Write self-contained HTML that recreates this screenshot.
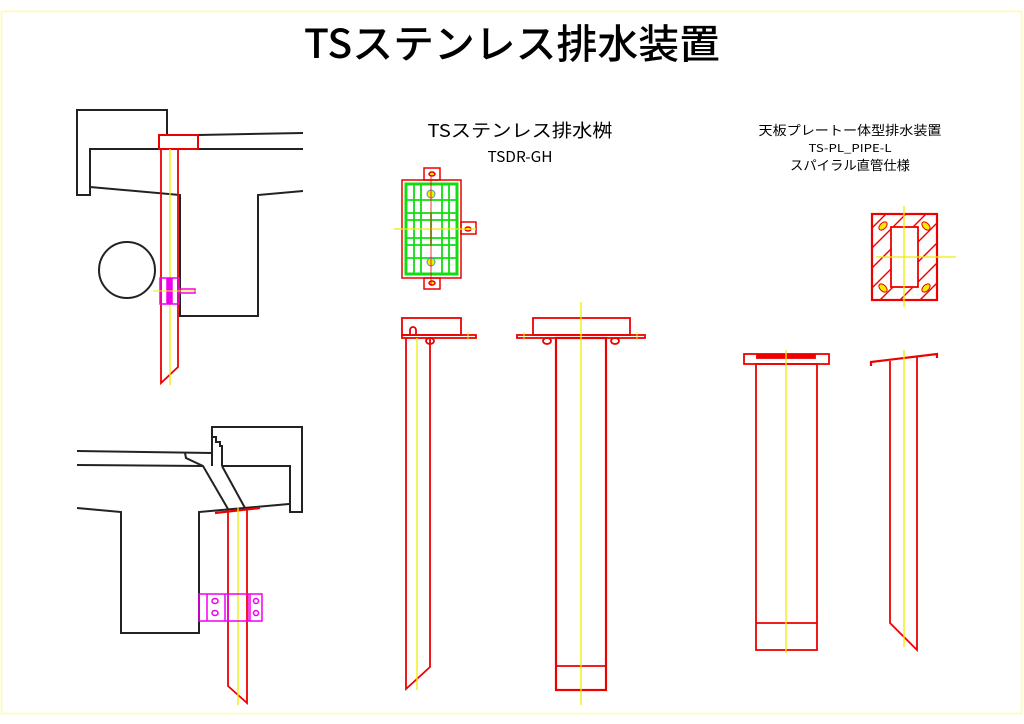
<!DOCTYPE html>
<html><head><meta charset="utf-8"><style>
html,body{margin:0;padding:0;background:#fff;}
svg{display:block;}
text{font-family:"Liberation Sans","Noto Sans CJK JP",sans-serif;fill:#000;}
.t{font-family:"Noto Sans CJK JP","Liberation Sans",sans-serif;}
</style></head><body>
<svg width="1024" height="724" viewBox="0 0 1024 724" xmlns="http://www.w3.org/2000/svg">
<rect x="1.5" y="11.5" width="1020" height="702" fill="none" stroke="#ffff99" stroke-width="1.5"/>
<text class="t" x="512" y="58" font-size="40" font-weight="500" text-anchor="middle" textLength="416" lengthAdjust="spacingAndGlyphs">TSステンレス排水装置</text>
<text class="t" x="520" y="137" font-size="18" text-anchor="middle" textLength="185" lengthAdjust="spacingAndGlyphs">TSステンレス排水桝</text>
<text class="t" x="520" y="162" font-size="15" text-anchor="middle" textLength="65" lengthAdjust="spacingAndGlyphs">TSDR-GH</text>
<text class="t" x="850" y="135" font-size="13" text-anchor="middle" textLength="183" lengthAdjust="spacingAndGlyphs">天板プレートー体型排水装置</text>
<text class="t" x="850" y="152" font-size="11" text-anchor="middle" textLength="83" lengthAdjust="spacingAndGlyphs">TS-PL_PIPE-L</text>
<text class="t" x="850" y="170" font-size="13" text-anchor="middle" textLength="120" lengthAdjust="spacingAndGlyphs">スパイラル直管仕様</text>

<g fill="none" stroke="#222" stroke-width="2">
<polyline points="167,135 167,110 77,110 77,195 90,195 90,149 159,149"/>
<line x1="198" y1="149" x2="303" y2="149"/>
<line x1="198" y1="135" x2="303" y2="133"/>
<polyline points="90,187 180,195 180,316 258,316 258,195 303,191"/>
<circle cx="127" cy="270" r="28"/>
</g>
<g fill="none" stroke="#e00" stroke-width="1.8">
<rect x="159" y="135" width="39" height="14" stroke-width="2"/>
<polyline points="161,149 161,383 178,367 178,149"/>
</g>
<line x1="170" y1="149" x2="170" y2="385" stroke="#ee0" stroke-width="1.3"/>
<g fill="none" stroke="#e0e" stroke-width="1.5">
<rect x="160" y="278" width="19" height="26"/>
<rect x="179" y="289" width="16" height="4"/>
<rect x="167" y="279" width="5" height="24" fill="#e0e"/>
</g>
<line x1="153" y1="291" x2="196" y2="291" stroke="#ee0" stroke-width="1"/>

<g fill="none" stroke="#222" stroke-width="2">
<polyline points="212,466 212,427 302,427 302,512 290,512 290,466 222,466"/>
<polyline points="213,437 216,437 216,442 220,442 220,446 222,446 222,466"/>
<line x1="77" y1="451" x2="212" y2="453"/>
<line x1="77" y1="465" x2="203" y2="466"/>
<polyline points="185,453 186,458 203,466 228,509"/>
<line x1="222" y1="466" x2="245" y2="508"/>
<polyline points="77,508 121,512 121,633 199,633 199,512 289,504"/>
</g>
<g fill="none" stroke="#e00" stroke-width="1.8">
<line x1="215" y1="513" x2="260" y2="508" stroke-width="2.2"/>
<polyline points="228,511 228,686 247,703 247,509"/>
</g>
<line x1="238" y1="507" x2="238" y2="705" stroke="#ee0" stroke-width="1.3"/>
<g fill="none" stroke="#e0e" stroke-width="1.5">
<rect x="199" y="594" width="63" height="27"/>
<line x1="207" y1="594" x2="207" y2="621"/>
<line x1="225" y1="594" x2="225" y2="621"/>
<line x1="228" y1="594" x2="228" y2="621"/>
<line x1="248" y1="594" x2="248" y2="621"/>
<line x1="250" y1="594" x2="250" y2="621"/>
<ellipse cx="215" cy="601" rx="3" ry="2.5"/><ellipse cx="215" cy="613" rx="3" ry="2.5"/>
<ellipse cx="256" cy="601" rx="2.5" ry="2.5"/><ellipse cx="256" cy="613" rx="2.5" ry="2.5"/>
</g>

<g fill="none" stroke="#e00" stroke-width="1.5">
<rect x="402" y="180" width="59" height="98"/>
<rect x="424" y="168" width="16" height="12"/>
<rect x="424" y="278" width="16" height="11"/>
<rect x="461" y="222" width="15" height="12"/>
<ellipse cx="432" cy="174" rx="3" ry="2" fill="#ee0"/>
<ellipse cx="432" cy="283" rx="3" ry="2" fill="#ee0"/>
<ellipse cx="468" cy="229" rx="3" ry="2" fill="#ee0"/>
</g>
<g fill="none" stroke="#1d1" stroke-width="1.8">
<rect x="406" y="184" width="51" height="90" stroke-width="3"/>
<line x1="406" y1="200" x2="457" y2="200"/>
<line x1="406" y1="213" x2="457" y2="213"/>
<line x1="406" y1="220" x2="457" y2="220"/>
<line x1="406" y1="238" x2="457" y2="238"/>
<line x1="406" y1="245" x2="457" y2="245"/>
<line x1="406" y1="258" x2="457" y2="258"/>
<line x1="414" y1="184" x2="414" y2="274"/>
<line x1="421" y1="184" x2="421" y2="274"/>
<line x1="431" y1="213" x2="431" y2="245"/>
<line x1="442" y1="184" x2="442" y2="274"/>
<line x1="449" y1="184" x2="449" y2="274"/>
</g>
<circle cx="431" cy="194" r="4" fill="#ee0" stroke="#49c"/>
<circle cx="431" cy="262" r="4" fill="#ee0" stroke="#49c"/>
<line x1="394" y1="229" x2="476" y2="229" stroke="#ee0" stroke-width="1.3"/>
<line x1="431" y1="176" x2="431" y2="286" stroke="#e00" stroke-width="0.8"/>

<g fill="none" stroke="#e00" stroke-width="1.8">
<rect x="402" y="318" width="59" height="17"/>
<rect x="402" y="335" width="74" height="3"/>
<path d="M410,335 V330 a3,3 0 0 1 6,0 V335"/>
<polyline points="406,338 406,689 430,667 430,338"/>
<ellipse cx="430" cy="341" rx="4" ry="3"/>
</g>
<line x1="417" y1="338" x2="417" y2="690" stroke="#ee0" stroke-width="1.3"/>
<line x1="468" y1="332" x2="468" y2="340" stroke="#ee0" stroke-width="1"/>

<g fill="none" stroke="#e00" stroke-width="1.8">
<rect x="533" y="318" width="97" height="17"/>
<rect x="517" y="335" width="128" height="3"/>
<rect x="556" y="338" width="50" height="352" stroke-width="2.2"/>
<line x1="556" y1="666" x2="606" y2="666"/>
<ellipse cx="547" cy="341" rx="4" ry="3"/>
<ellipse cx="615" cy="341" rx="4" ry="3"/>
</g>
<line x1="581" y1="302" x2="581" y2="705" stroke="#ee0" stroke-width="1.3"/>
<line x1="524" y1="332" x2="524" y2="340" stroke="#ee0" stroke-width="1"/>
<line x1="637" y1="332" x2="637" y2="340" stroke="#ee0" stroke-width="1"/>

<defs><clipPath id="hc"><path d="M872,214 H937 V300 H872 Z M891,227 V287 H918 V227 Z" clip-rule="evenodd"/></clipPath></defs>
<g clip-path="url(#hc)" stroke="#e00" stroke-width="1.4">
<line x1="850" y1="250" x2="910" y2="190"/>
<line x1="850" y1="270" x2="930" y2="190"/>
<line x1="850" y1="290" x2="940" y2="200"/>
<line x1="850" y1="310" x2="945" y2="215"/>
<line x1="855" y1="325" x2="950" y2="230"/>
<line x1="865" y1="335" x2="960" y2="240"/>
<line x1="875" y1="345" x2="970" y2="250"/>
<line x1="885" y1="355" x2="980" y2="260"/>
</g>
<g fill="none" stroke="#e00" stroke-width="1.8">
<rect x="872" y="214" width="65" height="86" stroke-width="2.2"/>
<rect x="891" y="227" width="27" height="60"/>
</g>
<g fill="#ee0" stroke="#e00" stroke-width="1">
<ellipse cx="883" cy="226" rx="5" ry="3" transform="rotate(-45 883 226)"/>
<ellipse cx="926" cy="226" rx="5" ry="3" transform="rotate(45 926 226)"/>
<ellipse cx="883" cy="288" rx="5" ry="3" transform="rotate(45 883 288)"/>
<ellipse cx="926" cy="288" rx="5" ry="3" transform="rotate(-45 926 288)"/>
</g>
<line x1="904" y1="206" x2="904" y2="307" stroke="#ee0" stroke-width="1.3"/>
<line x1="876" y1="257" x2="956" y2="257" stroke="#ee0" stroke-width="1.3"/>

<g fill="none" stroke="#e00" stroke-width="1.8">
<rect x="744" y="354" width="85" height="10"/>
<rect x="757" y="355" width="58" height="3" fill="#e00"/>
<rect x="756" y="364" width="61" height="286"/>
<line x1="756" y1="623" x2="817" y2="623"/>
</g>
<line x1="786" y1="350" x2="786" y2="653" stroke="#ee0" stroke-width="1.3"/>

<g fill="none" stroke="#e00" stroke-width="1.8">
<polyline points="871,366 871,362 937,354 937,358" stroke-width="2.2"/>
<polyline points="890,361 890,623 917,650 917,357"/>
</g>
<line x1="904" y1="350" x2="904" y2="647" stroke="#ee0" stroke-width="1.3"/>
</svg>
</body></html>
